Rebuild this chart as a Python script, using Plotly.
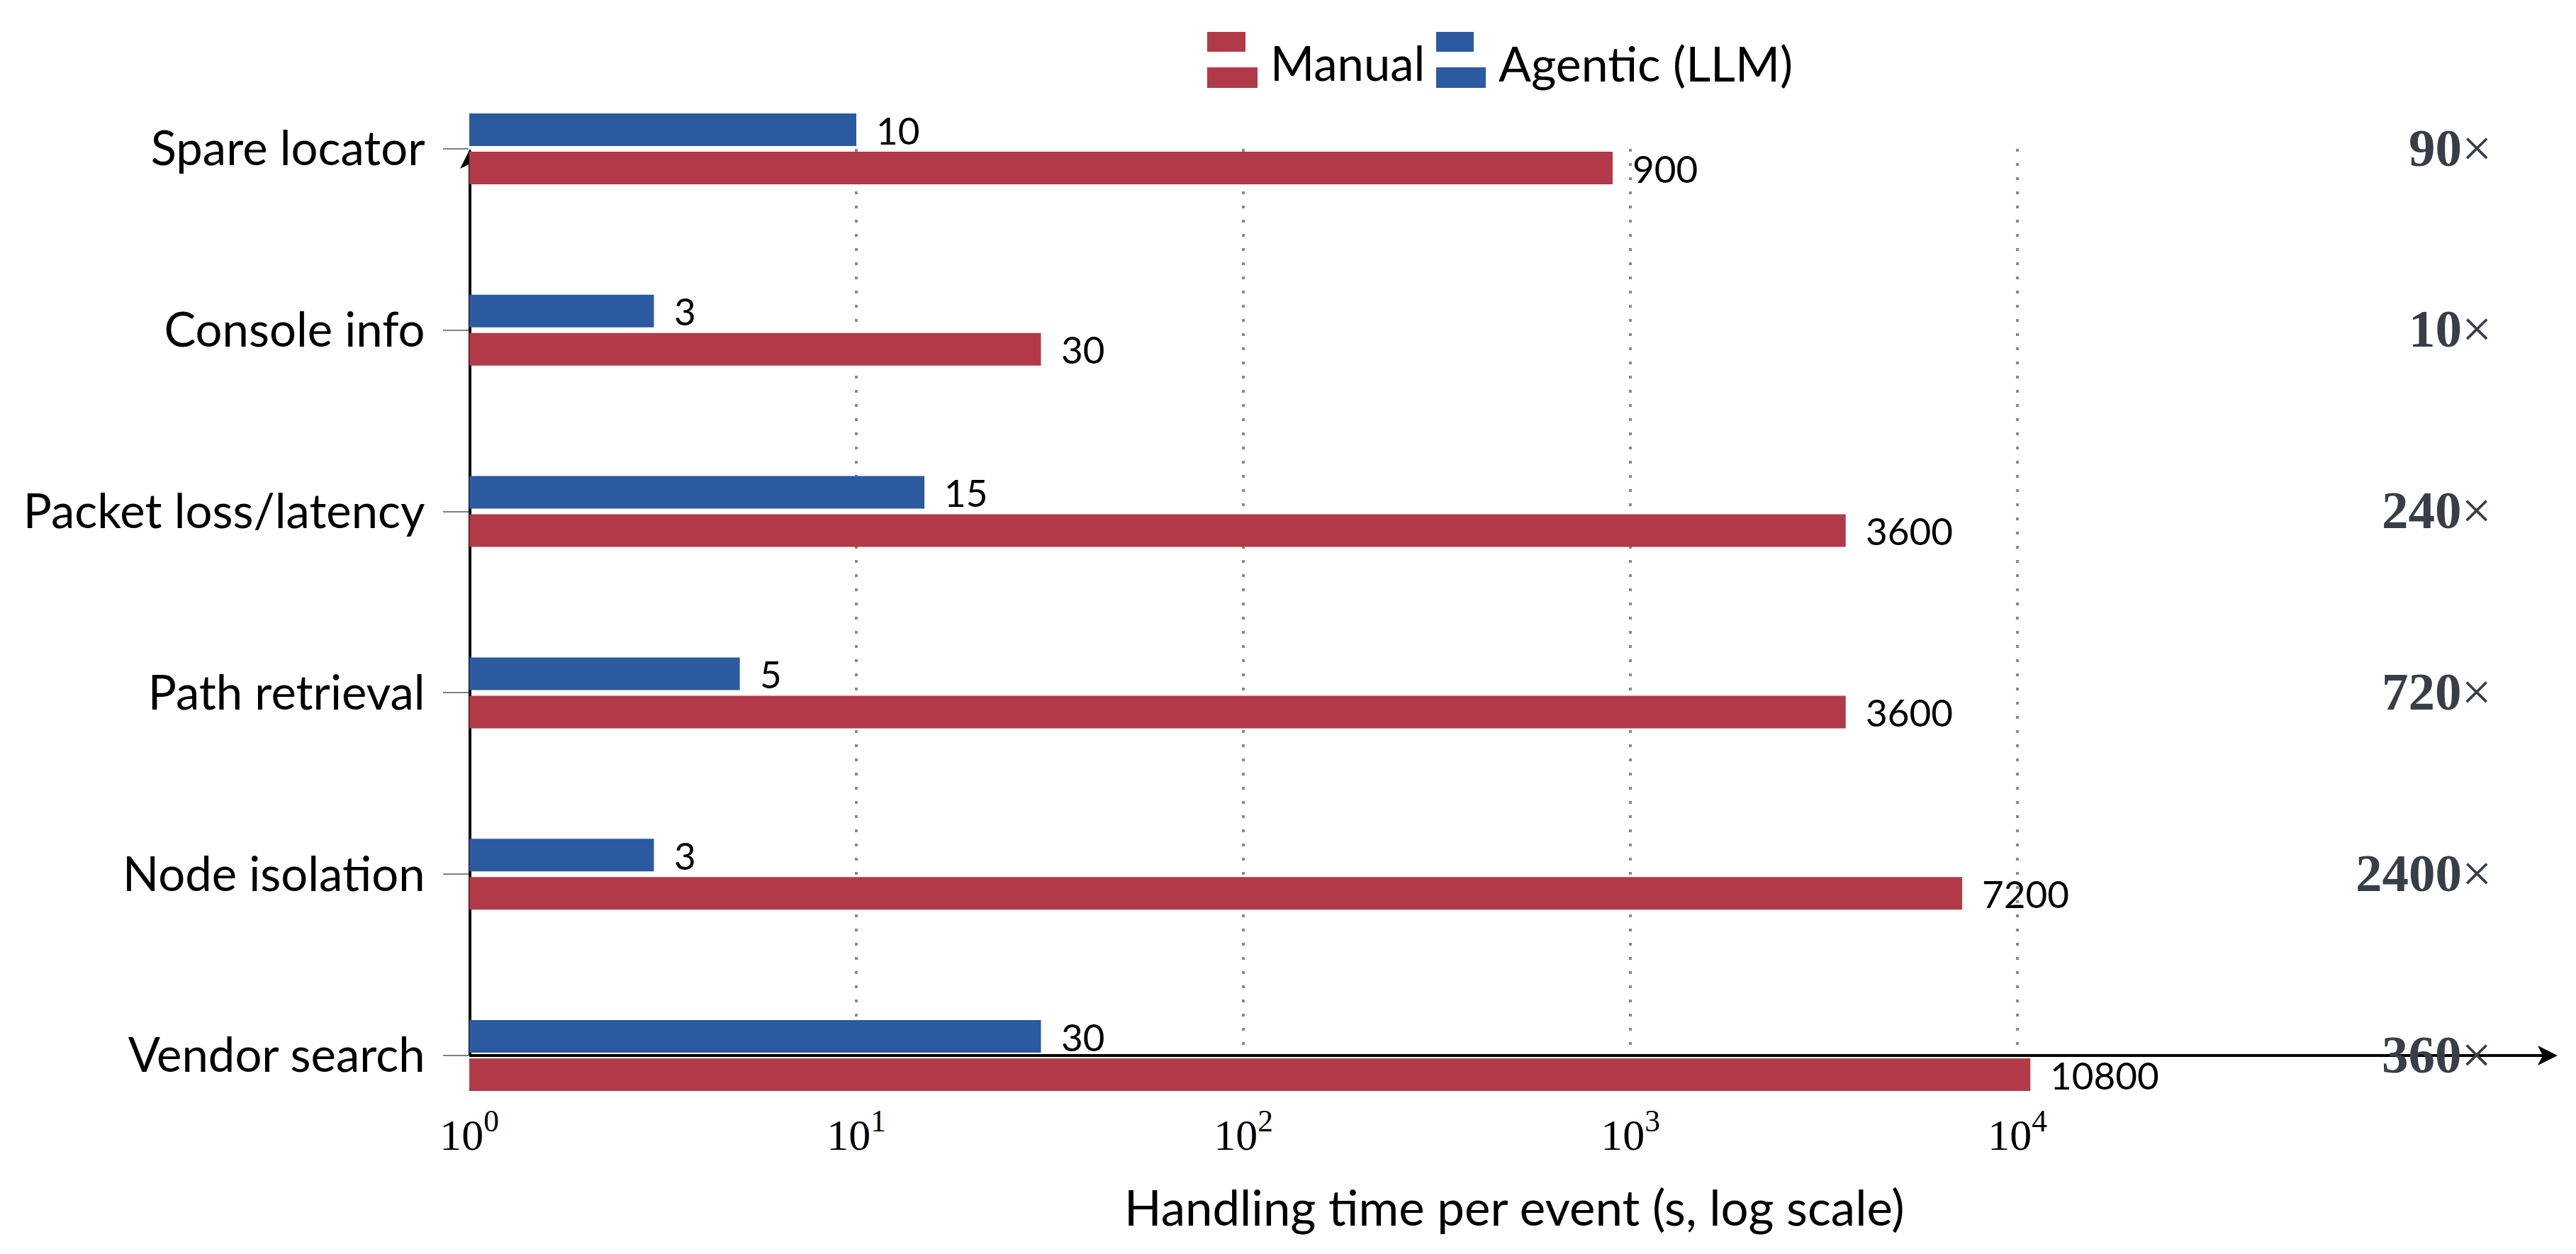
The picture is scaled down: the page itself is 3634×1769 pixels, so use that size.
import numpy as np
import plotly.graph_objects as go

# ---------------- data (top to bottom as shown) ----------------
categories = ["Spare locator", "Console info", "Packet loss/latency",
              "Path retrieval", "Node isolation", "Vendor search"]
manual = [900, 30, 3600, 3600, 7200, 10800]
agentic = [10, 3, 15, 5, 3, 30]
speedup = ["90", "10", "240", "720", "2400", "360"]
tick_vals = [1, 10, 100, 1000, 10000]
tick_text = ["10<sup>0</sup>", "10<sup>1</sup>", "10<sup>2</sup>", "10<sup>3</sup>", "10<sup>4</sup>"]

RED = "#B23A48"
BLUE = "#2C5AA0"
GRID = "#8a8a8a"
NOTE = "#373E48"
SANS = "Lato"
SERIF = "Liberation Serif"

# ---------------- geometry (pixels) ----------------
W, H = 3634, 1769
L, R = 662, 3608          # plot area left/right
T, B = 151, 1545          # plot area top/bottom
y_top_cat, y_bot_cat = 210, 1489
cat_px = (y_bot_cat - y_top_cat) / (len(categories) - 1)
dec_px = 546.0
x_max = (R - L) / dec_px
n = len(categories)
y_lo = (n - 1) + (B - y_bot_cat) / cat_px   # bottom of plot (reversed axis)
y_hi = -(y_top_cat - T) / cat_px            # top of plot


def px2x(px):
    return (px - L) / (R - L)


def py2y(py):
    return (B - py) / (B - T)


bar_w = 46 / cat_px
gap = 4 / cat_px

fig = go.Figure()
fig.add_bar(y=categories, x=agentic, orientation="h", name="Agentic (LLM)",
            marker=dict(color=BLUE, line=dict(width=0)),
            width=bar_w, offset=-(bar_w + gap), showlegend=False)
fig.add_bar(y=categories, x=manual, orientation="h", name="Manual",
            marker=dict(color=RED, line=dict(width=0)),
            width=bar_w, offset=gap, showlegend=False)

shapes = []
# dotted vertical grid lines (data coords)
for tv in tick_vals[1:]:
    shapes.append(dict(type="line", xref="x", yref="y", x0=tv, x1=tv,
                       y0=0, y1=n - 1, layer="below",
                       line=dict(color=GRID, width=4, dash="4px,16px")))

# x axis line with arrow
ax_y = py2y(y_bot_cat)
shapes.append(dict(type="line", xref="paper", yref="paper",
                   x0=0, x1=px2x(R - 20), y0=ax_y, y1=ax_y,
                   line=dict(color="black", width=4), layer="above"))
tipx, tipy = R, y_bot_cat
pts = [(tipx, tipy), (tipx - 28, tipy - 14), (tipx - 21, tipy), (tipx - 28, tipy + 14)]
path = "M " + " L ".join(f"{px2x(a):.6f},{py2y(b):.6f}" for a, b in pts) + " Z"
shapes.append(dict(type="path", xref="paper", yref="paper", path=path,
                   fillcolor="black", line=dict(width=0), layer="above"))

# y axis line with arrow (below bars)
shapes.append(dict(type="line", xref="paper", yref="paper",
                   x0=px2x(L + 1), x1=px2x(L + 1), y0=ax_y, y1=py2y(y_top_cat + 20),
                   line=dict(color="black", width=4), layer="below"))
tx, ty = L + 1, y_top_cat
pts = [(tx, ty), (tx - 14, ty + 28), (tx, ty + 21), (tx + 14, ty + 28)]
path = "M " + " L ".join(f"{px2x(a):.6f},{py2y(b):.6f}" for a, b in pts) + " Z"
shapes.append(dict(type="path", xref="paper", yref="paper", path=path,
                   fillcolor="black", line=dict(width=0), layer="below"))

# custom legend swatches
def rect(x0, x1, y0, y1, color):
    return dict(type="rect", xref="paper", yref="paper",
                x0=px2x(x0), x1=px2x(x1), y0=py2y(y1), y1=py2y(y0),
                fillcolor=color, line=dict(width=0))

shapes += [rect(1703, 1757, 45, 73, RED), rect(1703, 1774, 95, 124, RED),
           rect(2026, 2079, 45, 73, BLUE), rect(2026, 2096, 95, 124, BLUE)]

annotations = []
# value labels
for cat, v in zip(categories, agentic):
    annotations.append(dict(x=np.log10(v), y=cat, xref="x", yref="y", text=str(v),
                            showarrow=False, xanchor="left", yanchor="middle",
                            xshift=26, yshift=27,
                            font=dict(family=SANS, size=53, color="black")))
for cat, v in zip(categories, manual):
    annotations.append(dict(x=np.log10(v), y=cat, xref="x", yref="y", text=str(v),
                            showarrow=False, xanchor="left", yanchor="middle",
                            xshift=26, yshift=-27,
                            font=dict(family=SANS, size=53, color="black")))
# speedup notes
for cat, s in zip(categories, speedup):
    annotations.append(dict(x=px2x(3517), y=cat, xref="paper", yref="y",
                            text=f"<b>{s}</b>×", showarrow=False,
                            xanchor="right", yanchor="middle", yshift=2,
                            font=dict(family=SERIF, size=75, color=NOTE)))
# legend labels
annotations.append(dict(x=px2x(1790), y=py2y(88), xref="paper", yref="paper",
                        text="Manual", showarrow=False, xanchor="left", yanchor="middle",
                        font=dict(family=SANS, size=67, color="black")))
annotations.append(dict(x=px2x(2112), y=py2y(88), xref="paper", yref="paper",
                        text="Agentic (LLM)", showarrow=False, xanchor="left", yanchor="middle",
                        font=dict(family=SANS, size=68, color="black")))
# x axis title
annotations.append(dict(x=px2x(2136), y=py2y(1702), xref="paper", yref="paper",
                        text="Handling time per event (s, log scale)", showarrow=False,
                        xanchor="center", yanchor="middle",
                        font=dict(family=SANS, size=69, color="black")))

fig.update_layout(
    width=W, height=H,
    margin=dict(l=L, r=W - R, t=T, b=H - B, pad=0),
    paper_bgcolor="white", plot_bgcolor="white",
    barmode="overlay",
    shapes=shapes, annotations=annotations,
    showlegend=False,
    xaxis=dict(type="log", range=[0, x_max], tickvals=tick_vals, ticktext=tick_text,
               showgrid=False, zeroline=False, showline=False, ticks="",
               tickfont=dict(family=SERIF, size=62, color="black"),
               ticklabelstandoff=14, automargin=False),
    yaxis=dict(type="category", categoryorder="array", categoryarray=categories,
               range=[y_lo, y_hi], showgrid=False, zeroline=False, showline=False,
               ticks="outside", ticklen=36, tickwidth=2, tickcolor="#808080",
               tickfont=dict(family=SANS, size=67, color="black"),
               ticklabelstandoff=12, automargin=False),
)

fig.write_html("out.html")
